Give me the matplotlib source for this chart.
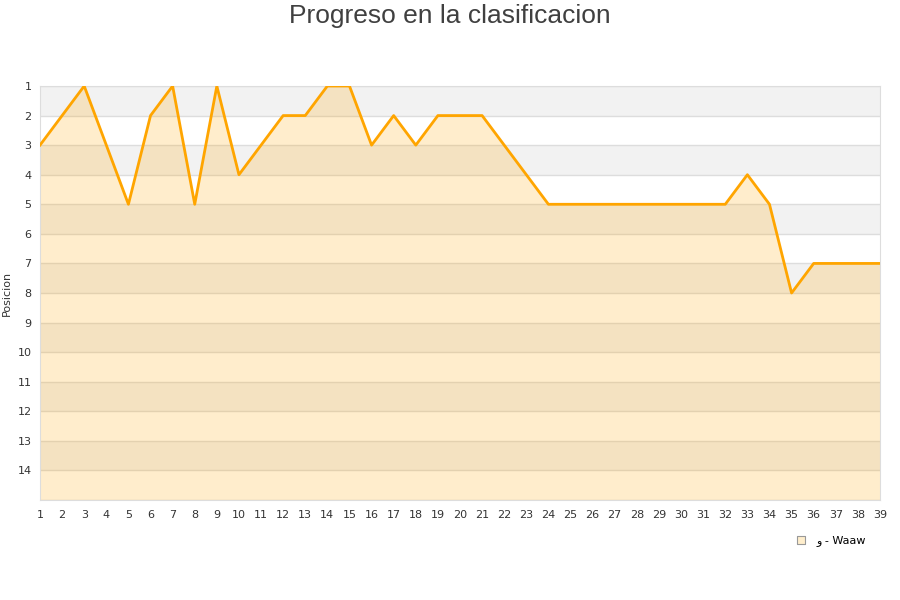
import numpy as np
import matplotlib.pyplot as plt

jornadas = list(range(1, 40))
posicion = [3, 2, 1, 3, 5, 2, 1, 5, 1, 4,
            3, 2, 2, 1, 1, 3, 2, 3, 2, 2,
            2, 3, 4, 5, 5, 5, 5, 5, 5, 5,
            5, 5, 4, 5, 8, 7, 7, 7, 7]
filas = list(range(1, 15))
equipo = 'و - Waaw'

fig = plt.figure(figsize=(9, 6), dpi=100)
ax = fig.add_axes([40 / 900, 1 - 500 / 600, 840 / 900, 414 / 600])

# bandas alternas
for i in range(1, 15, 2):
    ax.axhspan(i, i + 1, color='#f2f2f2', lw=0, zorder=0)
for y in range(1, 16):
    ax.axhline(y, color='#dddddd', lw=1, zorder=1)

ax.fill_between(jornadas, posicion, 15, color='#ffa500', alpha=0.2, lw=0, zorder=2)
ax.plot(jornadas, posicion, color='#ffa500', lw=2, zorder=3)

ax.set_xlim(1, 39)
ax.set_ylim(15, 1)
ax.set_xticks(jornadas)
ax.set_yticks(filas)
ax.tick_params(length=0, labelsize=8, colors='#333333', pad=7)
ax.tick_params(axis='y', pad=6)
for s in ax.spines.values():
    s.set_color('#dddddd')
ax.set_ylabel('Posicion', fontsize=8, color='#333333')
ax.yaxis.set_label_coords(-0.034, 0.5)

fig.text(0.5, 1 - 16 / 600, 'Progreso en la clasificacion', fontsize=19,
         family='Liberation Sans', color='#404040', ha='center', va='center')

h = ax.scatter([], [], marker='s', s=40, facecolor='#ffeecc', edgecolor='#999999', lw=0.8)
ax.legend([h], [equipo], loc='upper right', bbox_to_anchor=(0.99, -0.07),
          frameon=False, fontsize=8, handletextpad=0.4, borderpad=0)

fig.savefig('out.png', dpi=100)
